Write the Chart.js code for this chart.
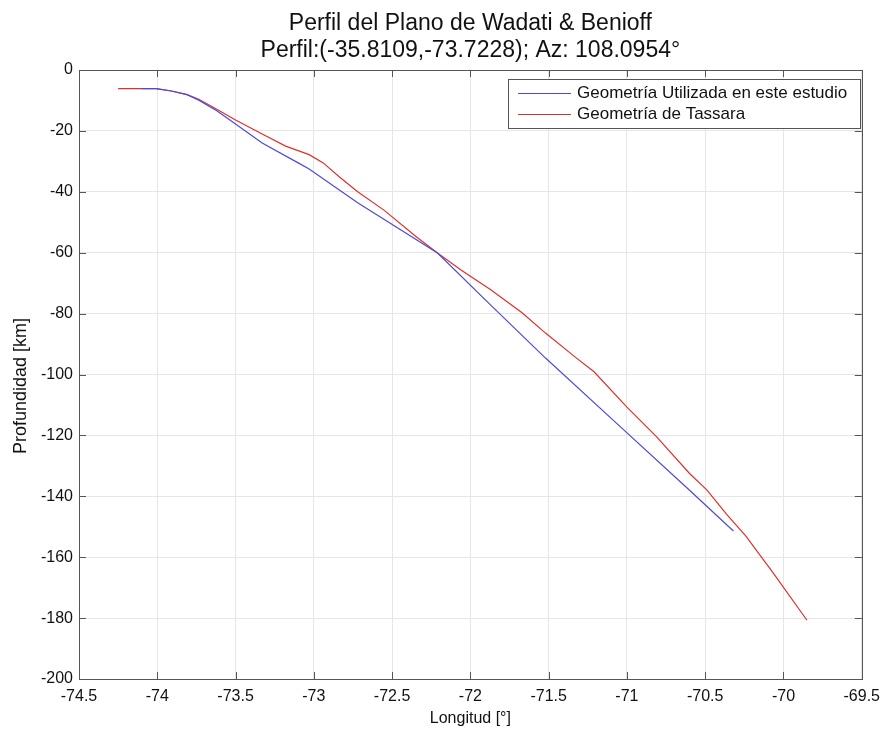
<!DOCTYPE html>
<html><head><meta charset="utf-8">
<script src="https://cdn.jsdelivr.net/npm/chart.js@4/dist/chart.umd.min.js"></script>
<style>html,body{margin:0;padding:0;background:#fff}#wrap{width:888px;height:729px}</style>
</head><body><div id="wrap"><canvas id="c" width="888" height="729"></canvas></div>
<script>
const titleLines = ["Perfil del Plano de Wadati & Benioff", "Perfil:(-35.8109,-73.7228); Az: 108.0954°"];
const xLabel = "Longitud [°]";
const yLabel = "Profundidad [km]";
const seriesNames = ["Geometría Utilizada en este estudio", "Geometría de Tassara"];
const blueLon = [-74.10, -74.007, -73.91, -73.81, -73.735, -73.62, -73.50, -73.33, -73.10, -73.03, -72.72, -72.55, -72.21, -71.87, -71.52, -71.09, -70.60, -70.32];
const blueDepth = [-6.1, -6.1, -6.9, -8.1, -9.9, -13.4, -17.7, -24.0, -30.5, -32.5, -43.6, -49.1, -60.1, -77.2, -94.6, -114.9, -138.0, -151.4];
const redLon = [-74.25, -74.007, -73.91, -73.81, -73.735, -73.62, -73.50, -73.33, -73.18, -73.03, -72.94, -72.84, -72.72, -72.55, -72.35, -72.21, -72.06, -71.87, -71.67, -71.52, -71.33, -71.21, -71.00, -70.81, -70.60, -70.49, -70.36, -70.24, -70.065, -69.85];
const redDepth = [-6.1, -6.1, -6.9, -8.1, -9.6, -12.9, -16.4, -21.0, -25.0, -27.8, -30.5, -35.0, -40.0, -46.1, -54.6, -60.1, -65.7, -72.2, -79.7, -86.4, -94.3, -99.1, -110.7, -120.5, -132.5, -137.9, -146.1, -153.1, -165.2, -180.7];
const xTicks = [-74.5, -74, -73.5, -73, -72.5, -72, -71.5, -71, -70.5, -70, -69.5];
const yTicks = [0, -20, -40, -60, -80, -100, -120, -140, -160, -180, -200];

const blueColor = '#4b4bdc', redColor = '#e0302c';
const FONT = '"Liberation Sans", Arial, sans-serif';

const overlay = {
  id: 'overlay',
  afterDraw(chart) {
    const ctx = chart.ctx, a = chart.chartArea;
    const xs = chart.scales.x, ys = chart.scales.y;
    ctx.save();
    ctx.strokeStyle = '#555'; ctx.lineWidth = 1;
    ctx.beginPath();
    xTicks.forEach(v => { const p = Math.round(xs.getPixelForValue(v)) + 0.5;
      ctx.moveTo(p, a.bottom); ctx.lineTo(p, a.bottom - 7);
      ctx.moveTo(p, a.top); ctx.lineTo(p, a.top + 7); });
    yTicks.forEach(v => { const p = Math.round(ys.getPixelForValue(v)) + 0.5;
      ctx.moveTo(a.left, p); ctx.lineTo(a.left + 7, p);
      ctx.moveTo(a.right, p); ctx.lineTo(a.right - 7, p); });
    ctx.stroke();
    ctx.strokeRect(Math.round(a.left) + 0.5, Math.round(a.top) + 0.5, Math.round(a.right - a.left), Math.round(a.bottom - a.top));
    ctx.fillStyle = '#111'; ctx.textAlign = 'center'; ctx.textBaseline = 'alphabetic';
    ctx.font = '23px ' + FONT;
    const cx = (a.left + a.right) / 2;
    ctx.fillText(titleLines[0], cx, 30);
    ctx.fillText(titleLines[1], cx, 57);
    ctx.textBaseline = 'middle';
    ctx.font = '16px ' + FONT;
    ctx.fillText(xLabel, cx, 719);
    ctx.save(); ctx.translate(21, 386); ctx.rotate(-Math.PI / 2);
    ctx.font = '18px ' + FONT;
    ctx.fillText(yLabel, 0, 0); ctx.restore();
    // legend
    const lx = 508, ly = 79, lw = 352, lh = 49;
    ctx.fillStyle = '#fff'; ctx.fillRect(lx, ly, lw, lh);
    ctx.strokeStyle = '#555'; ctx.strokeRect(lx + 0.5, ly + 0.5, lw, lh);
    ctx.font = '17px ' + FONT; ctx.textAlign = 'left'; ctx.fillStyle = '#111';
    [[blueColor, seriesNames[0], 93], [redColor, seriesNames[1], 114]].forEach(([c, t, y]) => {
      ctx.strokeStyle = c; ctx.beginPath(); ctx.moveTo(518, y + 0.5); ctx.lineTo(571, y + 0.5); ctx.stroke();
      ctx.fillText(t, 577, y);
    });
    ctx.restore();
  }
};

new Chart(document.getElementById('c'), {
  type: 'scatter',
  data: { datasets: [
    { label: seriesNames[0], data: blueLon.map((x, i) => ({x, y: blueDepth[i]})), showLine: true, borderColor: blueColor, borderWidth: 1.2, pointRadius: 0, tension: 0 },
    { label: seriesNames[1], data: redLon.map((x, i) => ({x, y: redDepth[i]})), showLine: true, borderColor: redColor, borderWidth: 1.2, pointRadius: 0, tension: 0 }
  ]},
  options: {
    responsive: false, animation: false, devicePixelRatio: 1,
    layout: { padding: { top: 70, right: 21, left: 0, bottom: 0 } },
    plugins: { legend: { display: false }, title: { display: false }, tooltip: { enabled: false } },
    scales: {
      x: { type: 'linear', min: -74.5, max: -69.5,
        afterFit: s => { s.height = 50; },
        afterBuildTicks: s => { s.ticks = xTicks.map(v => ({value: v})); },
        ticks: { padding: 8, color: '#111', font: { family: FONT, size: 16 }, maxRotation: 0, autoSkip: false, callback: v => String(v) },
        grid: { color: '#e6e6e6', drawTicks: false }, border: { display: false } },
      y: { type: 'linear', min: -200, max: 0,
        afterFit: s => { s.width = 79; },
        afterBuildTicks: s => { s.ticks = yTicks.map(v => ({value: v})); },
        ticks: { padding: 6, color: '#111', font: { family: FONT, size: 16 }, autoSkip: false, callback: v => String(v) },
        grid: { color: '#e6e6e6', drawTicks: false }, border: { display: false } }
    }
  },
  plugins: [overlay]
});
</script></body></html>
